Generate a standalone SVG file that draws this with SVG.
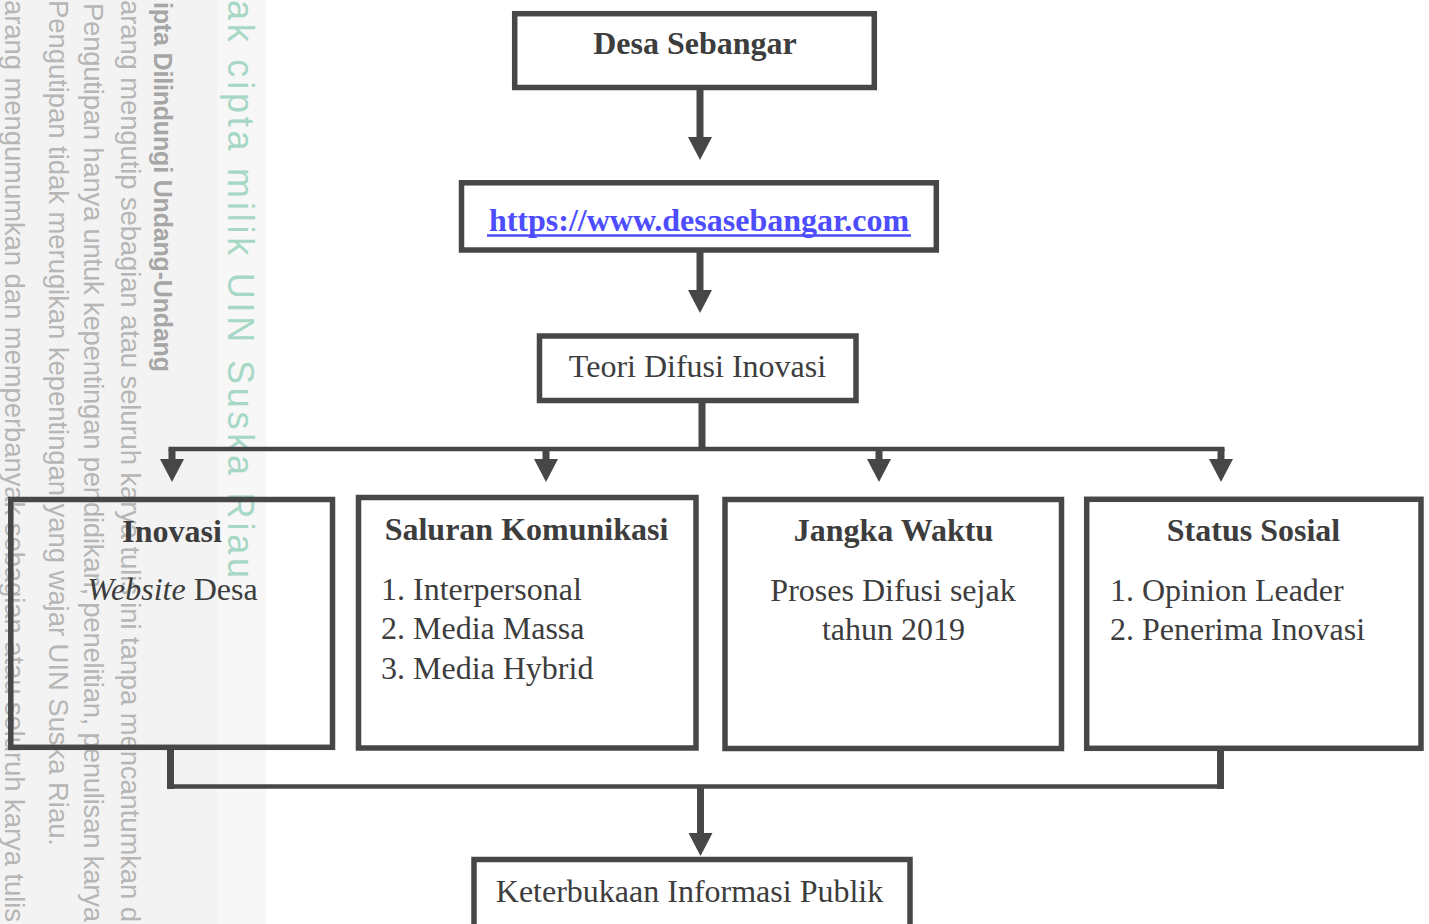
<svg xmlns="http://www.w3.org/2000/svg" width="1429" height="924" viewBox="0 0 1429 924">
<style>
.box{fill:none;stroke:#474747;stroke-width:5.5}
.t{font-family:"Liberation Serif","Times New Roman",serif;font-size:32px;fill:#3d3d3d}
.b{font-weight:bold}
.c{text-anchor:middle}
.ln{stroke:#474747;fill:none;stroke-linecap:butt}
.thick{stroke-width:7}
.thin{stroke-width:4.5}
.wm{font-family:"Liberation Sans",Arial,sans-serif;font-size:27.5px;fill:#b6b6b6}
</style>
<defs>
<marker id="ah" markerUnits="userSpaceOnUse" viewBox="0 0 23 24" markerWidth="23" markerHeight="24" refX="0" refY="12" orient="auto">
<path d="M0,0 L23,12 L0,24 Z" fill="#474747"/>
</marker>
</defs>
<rect x="0" y="0" width="1429" height="924" fill="#ffffff"/>
<g id="watermark">
<rect x="0" y="0" width="217" height="924" fill="#f3f3f3"/>
<rect x="217" y="0" width="49" height="924" fill="#f7f7f7"/>
<text class="wm" transform="translate(5,0) rotate(90)" textLength="922" lengthAdjust="spacing">arang mengumumkan dan memperbanyak sebagian atau seluruh karya tulis</text>
<text class="wm" transform="translate(48.5,0) rotate(90)" textLength="846" lengthAdjust="spacing">Pengutipan tidak merugikan kepentingan yang wajar UIN Suska Riau.</text>
<text class="wm" transform="translate(84,3) rotate(90)" textLength="919" lengthAdjust="spacing">Pengutipan hanya untuk kepentingan pendidikan, penelitian, penulisan karya</text>
<text class="wm" transform="translate(120.5,0) rotate(90)" textLength="922" lengthAdjust="spacing">arang mengutip sebagian atau seluruh karya tulis ini tanpa mencantumkan d</text>
<text class="wm" transform="translate(154,2) rotate(90)" style="font-weight:bold;font-size:25px;fill:#a6a6a6" textLength="370" lengthAdjust="spacing">ipta Dilindungi Undang-Undang</text>
<text transform="translate(228,0) rotate(90)" style="font-family:'Liberation Sans',Arial,sans-serif;font-size:36px;fill:#a6d8c5" textLength="578" lengthAdjust="spacing">ak cipta milik UIN Suska Riau</text>
</g>
<g id="connectors">
<line class="ln thick" x1="700" y1="90" x2="700" y2="137" marker-end="url(#ah)"/>
<line class="ln thick" x1="700" y1="252" x2="700" y2="290" marker-end="url(#ah)"/>
<line class="ln thick" x1="702" y1="403" x2="702" y2="451"/>
<line class="ln thin" x1="168.5" y1="449" x2="1224.5" y2="449"/>
<line class="ln thick" x1="172" y1="449" x2="172" y2="459" marker-end="url(#ah)"/>
<line class="ln thick" x1="546" y1="449" x2="546" y2="459" marker-end="url(#ah)"/>
<line class="ln thick" x1="879" y1="449" x2="879" y2="459" marker-end="url(#ah)"/>
<line class="ln thick" x1="1221" y1="449" x2="1221" y2="459" marker-end="url(#ah)"/>
<line class="ln thick" x1="170.5" y1="750" x2="170.5" y2="789"/>
<line class="ln thick" x1="1220.5" y1="751" x2="1220.5" y2="789"/>
<line class="ln thin" x1="167" y1="786.5" x2="1224" y2="786.5"/>
<line class="ln thick" x1="700.5" y1="788" x2="700.5" y2="833" marker-end="url(#ah)"/>
</g>
<g id="node-desa">
<rect class="box" x="514.7" y="13.7" width="359.6" height="73.8"/>
<text class="t b c" x="695" y="54">Desa Sebangar</text>
</g>
<g id="node-url">
<rect class="box" x="461.5" y="182.8" width="474.8" height="67.2"/>
<text class="t b c" x="699" y="231" style="fill:#4d4dff">https://www.desasebangar.com</text>
<line x1="487" y1="235.5" x2="911" y2="235.5" stroke="#4d4dff" stroke-width="2.3"/>
</g>
<g id="node-teori">
<rect class="box" x="539.5" y="336" width="316.5" height="64.5"/>
<text class="t c" x="697.5" y="377">Teori Difusi Inovasi</text>
</g>
<g id="node-inovasi">
<rect class="box" x="10.8" y="499.5" width="321.7" height="247.8"/>
<text class="t b c" x="172" y="541.5">Inovasi</text>
<text class="t c" x="172.5" y="600"><tspan font-style="italic">Website</tspan> Desa</text>
</g>
<g id="node-saluran">
<rect class="box" x="358.5" y="497.5" width="337.5" height="250.5"/>
<text class="t b c" x="526.5" y="540">Saluran Komunikasi</text>
<text class="t" x="381" y="600">1. Interpersonal</text>
<text class="t" x="381" y="639">2. Media Massa</text>
<text class="t" x="381" y="679">3. Media Hybrid</text>
</g>
<g id="node-jangka">
<rect class="box" x="725" y="499.5" width="336.5" height="249"/>
<text class="t b c" x="893.5" y="540.5">Jangka Waktu</text>
<text class="t c" x="893" y="601">Proses Difusi sejak</text>
<text class="t c" x="893.5" y="640">tahun 2019</text>
</g>
<g id="node-status">
<rect class="box" x="1086.7" y="499.3" width="334.3" height="249"/>
<text class="t b c" x="1253.5" y="541">Status Sosial</text>
<text class="t" x="1110" y="601">1. Opinion Leader</text>
<text class="t" x="1110" y="640">2. Penerima Inovasi</text>
</g>
<g id="node-keterbukaan">
<rect class="box" x="474" y="859.5" width="436" height="90"/>
<text class="t c" x="689.5" y="902">Keterbukaan Informasi Publik</text>
</g>
</svg>
